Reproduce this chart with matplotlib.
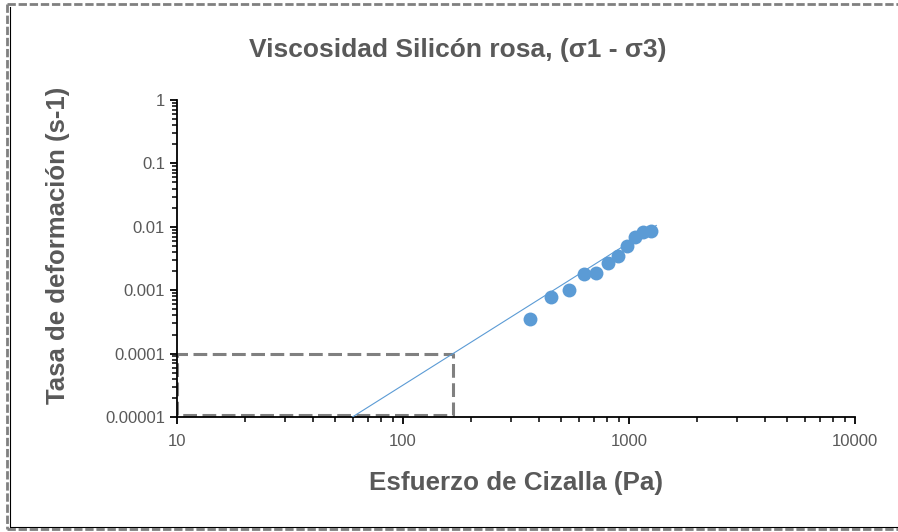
import numpy as np
import matplotlib
matplotlib.use("Agg")
from matplotlib import pyplot as plt
from matplotlib import ticker
from matplotlib.lines import Line2D

# shear stress (Pa) vs strain rate (1/s)
esfuerzo = [365, 454, 541, 631, 716, 805, 892, 984, 1066, 1159, 1256]
tasa = [0.00035, 0.00077, 0.00102, 0.00182, 0.00184, 0.00264, 0.00352, 0.00493, 0.00699, 0.00817, 0.00847]

# power trendline (ends as drawn)
trend_x = [59.8, 1322]
trend_y = [0.00001, 0.0105]

# dashed guide box
guide_x = [10, 10, 166, 166, 10]
guide_y = [0.0000107, 0.0001, 0.0001, 0.0000107, 0.0000107]

titulo = "Viscosidad Silicón rosa, (σ1 - σ3)"
xlabel = "Esfuerzo de Cizalla (Pa)"
ylabel = "Tasa de deformación (s-1)"

gris = "#595959"
azul = "#5B9BD5"
fam = ["Liberation Sans", "DejaVu Sans"]

fig = plt.figure(figsize=(8.98, 5.32), dpi=100)
ax = fig.add_axes([0.197, 0.2162, 0.755, 0.5958])

ax.plot(guide_x, guide_y, color="#808080", lw=2.2, ls=(0, (4.5, 1.8)), zorder=2)
ax.plot(trend_x, trend_y, color=azul, lw=0.8, zorder=3)
ax.plot(esfuerzo, tasa, "o", color=azul, ms=10, mec="none", zorder=4)

ax.set_xscale("log")
ax.set_yscale("log")
ax.set_xlim(10, 10000)
ax.set_ylim(0.00001, 1)

ax.xaxis.set_major_locator(ticker.LogLocator(base=10, numticks=10))
ax.yaxis.set_major_locator(ticker.LogLocator(base=10, numticks=10))
ax.xaxis.set_minor_locator(ticker.LogLocator(base=10, subs=np.arange(2, 10), numticks=10))
ax.yaxis.set_minor_locator(ticker.LogLocator(base=10, subs=np.arange(2, 10), numticks=10))
ax.xaxis.set_major_formatter(ticker.FuncFormatter(lambda v, p: "%g" % v))
ax.yaxis.set_major_formatter(ticker.FuncFormatter(lambda v, p: np.format_float_positional(v, trim="-")))
ax.xaxis.set_minor_formatter(ticker.NullFormatter())
ax.yaxis.set_minor_formatter(ticker.NullFormatter())

for s in ["top", "right"]:
    ax.spines[s].set_visible(False)
for s in ["left", "bottom"]:
    ax.spines[s].set_linewidth(1.3)
    ax.spines[s].set_color("black")

ax.tick_params(which="major", direction="out", length=5, width=1.3, color="black",
               labelsize=12, labelcolor=gris)
ax.tick_params(axis="x", which="major", pad=7)
ax.tick_params(which="minor", direction="out", length=3.5, width=1.1, color="black")
for lab in ax.get_xticklabels() + ax.get_yticklabels():
    lab.set_family(fam)

fig.text(0.51, 0.906, titulo, ha="center", va="center", fontsize=19,
         color=gris, family=fam, weight="bold")
fig.text(0.575, 0.092, xlabel, ha="center", va="center", fontsize=18.7,
         color=gris, family=fam, weight="bold")
fig.text(0.0646, 0.538, ylabel, ha="center", va="center", fontsize=18.5,
         color=gris, family=fam, weight="bold", rotation=90)

# chart area frame
W, H = 898.0, 532.0
fig.add_artist(Line2D([7 / W, 7 / W], [1 - 4 / H, 1 - 529 / H], transform=fig.transFigure,
                      color="#808080", lw=2, ls=(0, (3, 1))))
fig.add_artist(Line2D([7 / W, 1], [1 - 529 / H, 1 - 529 / H], transform=fig.transFigure,
                      color="#808080", lw=2, ls=(0, (3, 1))))
fig.add_artist(Line2D([7 / W, 1], [1 - 4 / H, 1 - 4 / H], transform=fig.transFigure,
                      color="#808080", lw=2, ls=(0, (3, 1))))
fig.add_artist(Line2D([10 / W, 10 / W], [1 - 7 / H, 1 - 527 / H], transform=fig.transFigure,
                      color="black", lw=0.8))
fig.add_artist(Line2D([10 / W, 1], [1 - 527 / H, 1 - 527 / H], transform=fig.transFigure,
                      color="black", lw=0.8))

fig.savefig("out.png", dpi=100)
